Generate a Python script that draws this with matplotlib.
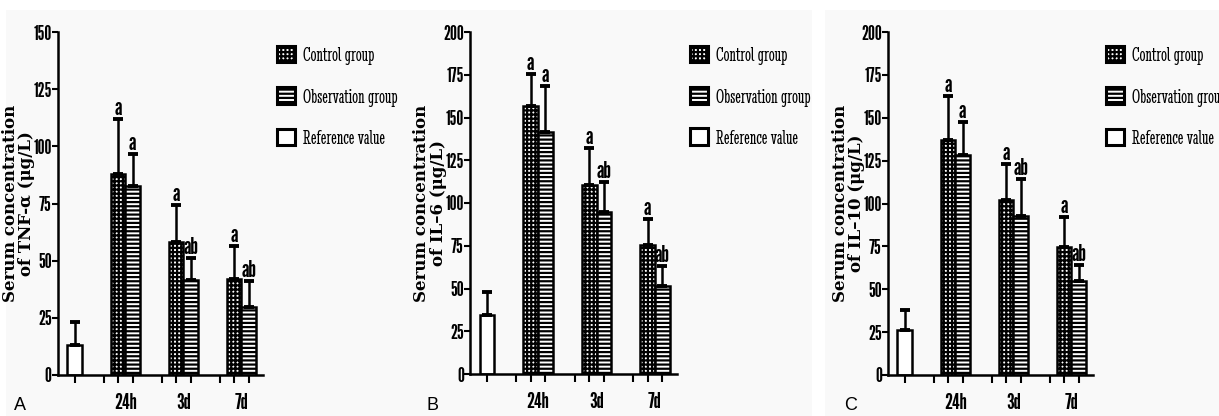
import matplotlib
matplotlib.use("Agg")
import matplotlib.pyplot as plt
from matplotlib.patches import Patch, Rectangle

# dados
grupos = ["24h", "3d", "7d"]
paineis = ["A", "B", "C"]
rotulos_y = ["Serum concentration\nof TNF-\u03b1 (\u03bcg/L)",
             "Serum concentration\nof IL\u20136 (\u03bcg/L)",
             "Serum concentration\nof IL\u201310 (\u03bcg/L)"]
y_max = [150, 200, 200]

ref_media = [13, 34.5, 26.3]
ref_dp = [10, 13.2, 11.6]

controle_media = [[88, 58, 42], [156.6, 110.8, 75.4], [137.2, 101.8, 74.9]]
controle_dp = [[24, 16.3, 14.5], [18.7, 21.6, 15.2], [25.3, 21.2, 17.5]]
obs_media = [[82.7, 41.5, 29.6], [141.6, 94.5, 51.6], [128.4, 93, 54.9]]
obs_dp = [[14.1, 9.8, 11.6], [27, 17.9, 11.7], [18.9, 21.2, 9.3]]

letras_controle = ["a", "a", "a"]
letras_obs = ["a", "ab", "ab"]
nomes_legenda = ["Control group", "Observation group", "Reference value"]

plt.rcParams['hatch.linewidth'] = 1.6
fonte_estreita = ['League Gothic', 'Oswald', 'DejaVu Sans']
fonte_legenda = ['Stint Ultra Condensed', 'Liberation Serif']

fig = plt.figure(figsize=(12.19, 4.16), dpi=100)

# posicoes dos eixos em pixels (esquerda, topo, direita, base)
caixas = [(58, 32, 263, 375), (470, 32, 677, 374), (888, 32, 1093, 375)]
fundos = [(6, 10, 404), (410, 10, 402), (825, 10, 394)]
letras_painel = [(14, 406), (426, 406), (844, 406)]
x_legenda = [1.068, 1.063, 1.063]

for i in range(3):
    fx, fy, fw = fundos[i]
    fig.patches.append(Rectangle((fx / 1219, 0), fw / 1219, 1 - fy / 416,
                                 transform=fig.transFigure, facecolor='#f9f9f9',
                                 edgecolor='none', zorder=-10))
    x0, y0, x1, y1 = caixas[i]
    ax = fig.add_axes([x0 / 1219, (416 - y1) / 416, (x1 - x0) / 1219, (y1 - y0) / 416])
    ax.set_facecolor('none')

    pos_ref = 0
    pos_ctrl = [3, 7, 11]
    pos_obs = [4, 8, 12]

    kw_erro = dict(lw=1.8, capsize=3.3, capthick=2.8, ecolor='black')
    ax.bar(pos_ref, ref_media[i], width=1, color='white', edgecolor='black', lw=1.8,
           yerr=[[0], [ref_dp[i]]], error_kw=kw_erro)
    ax.bar(pos_ctrl, controle_media[i], width=1, color='white', edgecolor='black', lw=1.8,
           hatch='++++', yerr=[[0] * 3, controle_dp[i]], error_kw=kw_erro)
    ax.bar(pos_obs, obs_media[i], width=1, color='white', edgecolor='black', lw=1.8,
           hatch='----', yerr=[[0] * 3, obs_dp[i]], error_kw=kw_erro)

    for j in range(3):
        ax.text(pos_ctrl[j], controle_media[i][j] + controle_dp[i][j], letras_controle[j],
                ha='center', va='bottom', fontsize=17, family=fonte_estreita)
        ax.text(pos_obs[j], obs_media[i][j] + obs_dp[i][j], letras_obs[j],
                ha='center', va='bottom', fontsize=17, family=fonte_estreita)

    ax.set_xlim(-1.15, 13.0)
    ax.set_ylim(0, y_max[i])
    ax.set_yticks(range(0, y_max[i] + 1, 25))
    ax.set_yticklabels([str(v) for v in range(0, y_max[i] + 1, 25)],
                       fontsize=14, family=fonte_estreita)
    ax.set_xticks([0, 2, 3, 4, 6, 7, 8, 10, 11, 12])
    ax.set_xticklabels([])
    ax.set_xticks([3.5, 7.5, 11.5], minor=True)
    ax.set_xticklabels(grupos, minor=True, fontsize=16, family=fonte_estreita)
    ax.tick_params(axis='x', which='major', length=6, width=1.5, direction='out')
    ax.tick_params(axis='x', which='minor', length=0, pad=13)
    ax.tick_params(axis='y', length=4, width=1.5, pad=0.5)
    for s in ['top', 'right']:
        ax.spines[s].set_visible(False)
    for s in ['left', 'bottom']:
        ax.spines[s].set_linewidth(1.8)

    ax.set_ylabel(rotulos_y[i], fontsize=12, fontweight='bold', family='DejaVu Serif',
                  linespacing=0.95)
    ax.yaxis.set_label_coords(-0.112, 0.5)

    alcas = [Patch(facecolor='white', edgecolor='black', lw=2.2, hatch='++++'),
             Patch(facecolor='white', edgecolor='black', lw=2.2, hatch='----'),
             Patch(facecolor='white', edgecolor='black', lw=2.2)]
    ax.legend(alcas, nomes_legenda, loc='upper left', bbox_to_anchor=(x_legenda[i], 0.96),
              frameon=False, borderpad=0, borderaxespad=0,
              handlelength=0.85, handleheight=0.85, handletextpad=0.4, labelspacing=1.05,
              prop={'family': fonte_legenda, 'size': 15})

    fig.text(letras_painel[i][0] / 1219, 1 - letras_painel[i][1] / 416, paineis[i],
             fontsize=13, ha='left', va='center', family='Liberation Sans')

fig.savefig("out.png", dpi=100, facecolor='white')
